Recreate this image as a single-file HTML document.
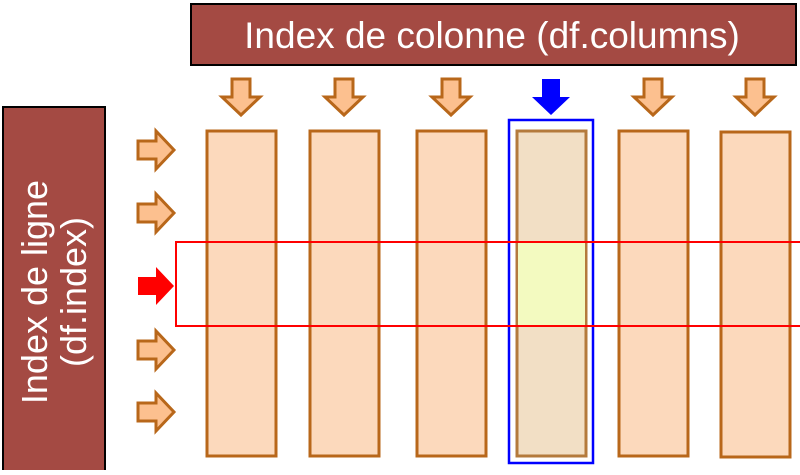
<!DOCTYPE html><html><head><style>body{margin:0;background:#fff}</style></head><body>
<svg width="800" height="470" xmlns="http://www.w3.org/2000/svg" font-family="Liberation Sans, sans-serif">
<defs>
<path id="ad" d="M-9,0 H9 V18 H19 L0,36 L-19,18 H-9 Z"/>
<path id="ar" d="M0,-9 V9 H18 V19 L36,0 L18,-19 V-9 Z"/>
</defs>
<rect x="191" y="4" width="605" height="61" fill="#a44a43" stroke="#000" stroke-width="2"/>
<text x="492" y="48" font-size="37" fill="#fff" text-anchor="middle">Index de colonne (df.columns)</text>
<rect x="3" y="107" width="102" height="365" fill="#a44a43" stroke="#000" stroke-width="2"/>
<text transform="translate(53,292) rotate(-90)" font-size="36" fill="#fff" text-anchor="middle"><tspan x="0" y="-6">Index de ligne</tspan><tspan x="0" y="33">(df.index)</tspan></text>
<g fill="#fcd9bc" stroke="#b8671a" stroke-width="3">
<rect x="207" y="131" width="69" height="325"/>
<rect x="310" y="131" width="69" height="325"/>
<rect x="417" y="131" width="69" height="325"/>
<rect x="517" y="131" width="69" height="325" fill="#f2dfc5" stroke="#b47a3c"/>
<rect x="619" y="131" width="69" height="325"/>
<rect x="721" y="132" width="69" height="325"/>
</g>
<rect x="518" y="243" width="67" height="83" fill="#f3fac0"/>
<rect x="509" y="120" width="84" height="343" fill="none" stroke="#0000ff" stroke-width="2.5"/>
<rect x="176" y="242" width="630" height="84" fill="none" stroke="#ff0000" stroke-width="2"/>
<g fill="#fcc08f" stroke="#b8671a" stroke-width="3">
<use href="#ad" x="241" y="79"/><use href="#ad" x="344" y="79"/><use href="#ad" x="451" y="79"/>
<use href="#ad" x="653" y="79"/><use href="#ad" x="755" y="79"/>
<use href="#ar" x="138" y="150"/><use href="#ar" x="138" y="213"/><use href="#ar" x="138" y="350"/><use href="#ar" x="138" y="412"/>
</g>
<use href="#ad" x="551" y="79" fill="#0000ff"/>
<use href="#ar" x="138" y="286" fill="#ff0000"/>
</svg>
</body></html>
